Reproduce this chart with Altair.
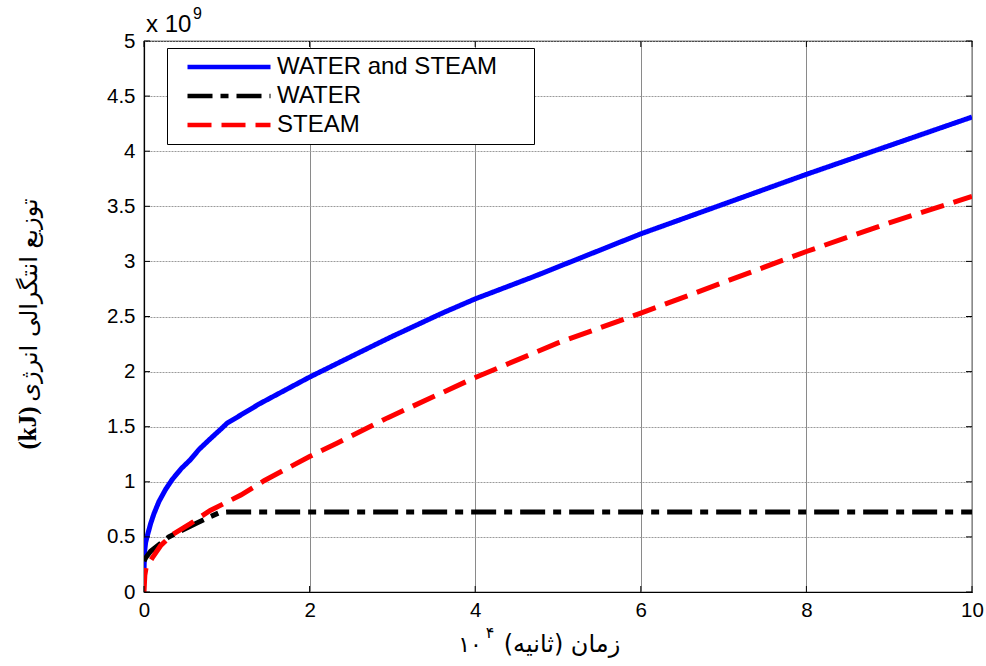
import altair as alt
import pandas as pd

# ---------------- data (x in units of 1e4 s, y in units of 1e9 kJ) ----------------
x_both = [0, 0.005, 0.02, 0.04, 0.08, 0.12, 0.18, 0.26, 0.34, 0.45, 0.56, 0.66, 0.80, 0.96,
          1.0, 1.2, 1.4, 1.7, 2.0, 2.7, 3.0, 3.6, 4.0, 4.7, 5.3, 6.0, 7.0, 8.0, 9.0, 10.0]
y_both = [0.17, 0.35, 0.45, 0.51, 0.62, 0.71, 0.82, 0.93, 1.02, 1.12, 1.20, 1.29, 1.39, 1.50,
          1.53, 1.62, 1.71, 1.83, 1.95, 2.21, 2.32, 2.53, 2.66, 2.86, 3.04, 3.25, 3.52, 3.79, 4.05, 4.31]

x_water = [0, 0.02, 0.08, 0.18, 0.30, 0.46, 0.62, 0.79, 0.91, 1.0, 10.0]
y_water = [0.28, 0.31, 0.37, 0.43, 0.50, 0.56, 0.62, 0.68, 0.72, 0.725, 0.725]

x_steam = [0, 0.01, 0.025, 0.1, 0.2, 0.34, 0.56, 0.80, 1.17, 1.45, 2.0, 2.33, 2.94, 3.98,
           5.0, 6.0, 7.0, 8.0, 9.0, 10.0]
y_steam = [0.0, 0.15, 0.22, 0.31, 0.42, 0.52, 0.62, 0.74, 0.88, 1.01, 1.23, 1.35, 1.58, 1.94,
           2.26, 2.53, 2.81, 3.09, 3.35, 3.59]

series_names = ["WATER and STEAM", "WATER", "STEAM"]
series_colors = ["#0000ff", "#000000", "#ff0000"]
series_dashes = [[1, 0], [25, 8, 8, 8], [24, 10]]

x_ticks = [0, 2, 4, 6, 8, 10]
y_ticks = [0, 0.5, 1, 1.5, 2, 2.5, 3, 3.5, 4, 4.5, 5]

exp_base_text = "x 10"
exp_power_text = "9"
y_title_fa = "توزیع انتگرالی انرژی"
y_title_unit = "(kJ)"
x_title_fa = "\u200fزمان (ثانیه)\u200f"
x_title_base = "۱۰"
x_title_power = "۴"

# ---------------- layout ----------------
W, H = 828, 551
PAD = {"left": 144, "top": 41, "right": 14, "bottom": 74}

rows = []
for name, xs, ys in zip(series_names, [x_both, x_water, x_steam], [y_both, y_water, y_steam]):
    for xv, yv in zip(xs, ys):
        rows.append({"series": name, "x": xv, "y": yv})
df = pd.DataFrame(rows)

xscale = alt.Scale(domain=[0, 10], nice=False, zero=False)
yscale = alt.Scale(domain=[0, 5], nice=False, zero=False)

xaxis = alt.Axis(values=x_ticks, grid=True, gridColor="#8a8a8a", gridWidth=1,
                 tickSize=0, labelPadding=8, labelFontSize=20.5, labelFont="Liberation Sans",
                 labelColor="black", domainColor="black", domainWidth=1.2, title=None,
                 labelFlush=False)
yaxis = alt.Axis(values=y_ticks, format="~g", grid=True, gridColor="#9a9a9a", gridWidth=1,
                 gridDash=[2, 1], tickSize=0, labelPadding=9, labelFontSize=20.5,
                 labelFont="Liberation Sans", labelColor="black", domainColor="black",
                 domainWidth=1.2, title=None, labelFlush=False)


def X(field="x"):
    return alt.X(f"{field}:Q", scale=xscale, axis=xaxis)


def Y(field="y"):
    return alt.Y(f"{field}:Q", scale=yscale, axis=yaxis)


# an invisible (no-break space) title on the right side only widens the legend frame
legend_spec = dict(title="\u00a0", titleOrient="right", titlePadding=30, titleFontSize=8)

lines = alt.Chart(df).mark_line(strokeWidth=5, clip=True).encode(
    x=X(), y=Y(),
    color=alt.Color("series:N", scale=alt.Scale(domain=series_names, range=series_colors),
                    legend=alt.Legend(**legend_spec)),
    strokeDash=alt.StrokeDash("series:N", scale=alt.Scale(domain=series_names, range=series_dashes),
                              legend=alt.Legend(**legend_spec)),
)

xt = pd.DataFrame({"x": x_ticks})
yt = pd.DataFrame({"y": y_ticks})
tick_bottom = alt.Chart(xt).mark_rule(color="black", strokeWidth=1).encode(
    x=X(), y=alt.value(H - 6), y2=alt.value(H))
tick_top = alt.Chart(xt).mark_rule(color="black", strokeWidth=1).encode(
    x=X(), y=alt.value(0), y2=alt.value(6))
tick_left = alt.Chart(yt).mark_rule(color="black", strokeWidth=1).encode(
    y=Y(), x=alt.value(0), x2=alt.value(6))
tick_right = alt.Chart(yt).mark_rule(color="black", strokeWidth=1).encode(
    y=Y(), x=alt.value(W - 6), x2=alt.value(W))


def label(text, x, y, size, font="Liberation Sans", angle=0, align="center",
          baseline="alphabetic", weight="normal"):
    d = pd.DataFrame({"t": [text]})
    kw = dict(fontSize=size, font=font, align=align, baseline=baseline,
              fontWeight=weight, color="black")
    if angle:
        kw["angle"] = angle
    return alt.Chart(d).mark_text(**kw).encode(text="t:N", x=alt.value(x), y=alt.value(y))


texts = [
    label(exp_base_text, 2, -9, 24, align="left"),
    label(exp_power_text, 49, -22, 16, align="left"),
    label(y_title_fa, -114, 300 - 41, 24, font="DejaVu Sans", angle=270, baseline="middle"),
    label(y_title_unit, -116, 428 - 41, 25, font="Liberation Serif", angle=270,
          baseline="middle", weight="bold"),
    label(x_title_fa, 562 - 144, 611, 24, font="DejaVu Sans"),
    label(x_title_base, 470 - 144, 611, 22, font="DejaVu Sans"),
    label(x_title_power, 490 - 144, 597, 16, font="DejaVu Sans"),
]

chart = alt.layer(lines, tick_bottom, tick_top, tick_left, tick_right, *texts).properties(
    width=W, height=H,
    autosize=alt.AutoSizeParams(type="none"),
    padding=PAD,
    background="white",
).configure_view(
    stroke="black", strokeWidth=1.2
).configure_legend(
    orient="none", legendX=23, legendY=7,
    strokeColor="black", strokeWidth=1, fillColor="white", cornerRadius=0,
    padding=7, symbolType="stroke", symbolSize=6889, symbolStrokeWidth=4.5,
    symbolOffset=11, labelOffset=4, labelFont="Liberation Sans", labelFontSize=24,
    labelColor="black", rowPadding=5, labelLimit=500, clipHeight=24,
)

chart.save("out.html", embed_options={"renderer": "svg", "actions": False})
